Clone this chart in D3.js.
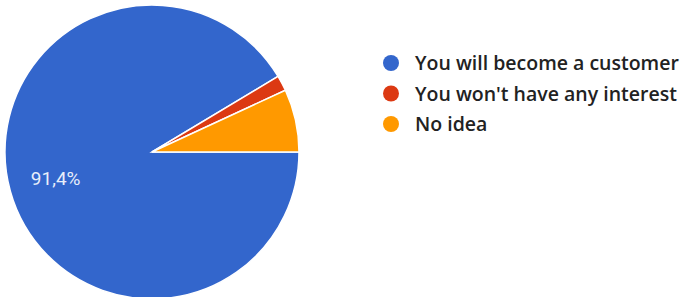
<!DOCTYPE html>
<html>
<head>
<meta charset="utf-8">
<script src="https://cdn.jsdelivr.net/npm/d3@7"></script>
<style>
  body { margin: 0; background: #fff; }
  svg { display: block; font-family: "Open Sans", "Noto Sans", sans-serif; }
</style>
</head>
<body>
<div id="chart"></div>
<script>
// answers and their shares (percent)
var labels = ["You will become a customer", "You won't have any interest", "No idea"];
var values = [91.4, 1.7, 6.9];
var colors = ["#3366cc", "#dc3912", "#ff9900"];

var width = 683, height = 297;
var cx = 152, cy = 152, radius = 147;

var svg = d3.select("#chart").append("svg")
    .attr("width", width)
    .attr("height", height);

var data = labels.map(function(l, i) { return {label: l, value: values[i], color: colors[i]}; });

// slices start at 3 o'clock and go clockwise
var pie = d3.pie()
    .sort(null)
    .value(function(d) { return d.value; })
    .startAngle(Math.PI / 2)
    .endAngle(Math.PI / 2 + 2 * Math.PI);

var arc = d3.arc().innerRadius(0).outerRadius(radius);

var g = svg.append("g").attr("transform", "translate(" + cx + "," + cy + ")");

var slices = pie(data);

g.selectAll("path")
    .data(slices)
    .enter().append("path")
    .attr("d", arc)
    .attr("fill", function(d) { return d.data.color; })
    .attr("stroke", "#fff")
    .attr("stroke-width", 1.5);

// percentage label only on the big slice
var labelArc = d3.arc().innerRadius(radius * 0.68).outerRadius(radius * 0.68);
slices.forEach(function(s) {
  if (s.data.value < 10) return;
  var c = labelArc.centroid(s);
  g.append("text")
    .attr("x", c[0])
    .attr("y", c[1])
    .attr("text-anchor", "middle")
    .attr("dy", "0.35em")
    .attr("fill", "#e8eefa")
    .style("font-family", "Roboto, Arial, sans-serif")
    .style("font-size", "19px")
    .text(String(s.data.value).replace(".", ",") + "%");
});

// legend
var legend = svg.append("g").attr("transform", "translate(391,63)");
var item = legend.selectAll("g")
    .data(data)
    .enter().append("g")
    .attr("transform", function(d, i) { return "translate(0," + (i * 30.5) + ")"; });

item.append("circle")
    .attr("r", 8)
    .attr("fill", function(d) { return d.color; });

item.append("text")
    .attr("x", 24)
    .attr("dy", "0.36em")
    .attr("fill", "#222")
    .style("font-size", "19.5px")
    .style("font-weight", "600")
    .text(function(d) { return d.label; });
</script>
</body>
</html>
